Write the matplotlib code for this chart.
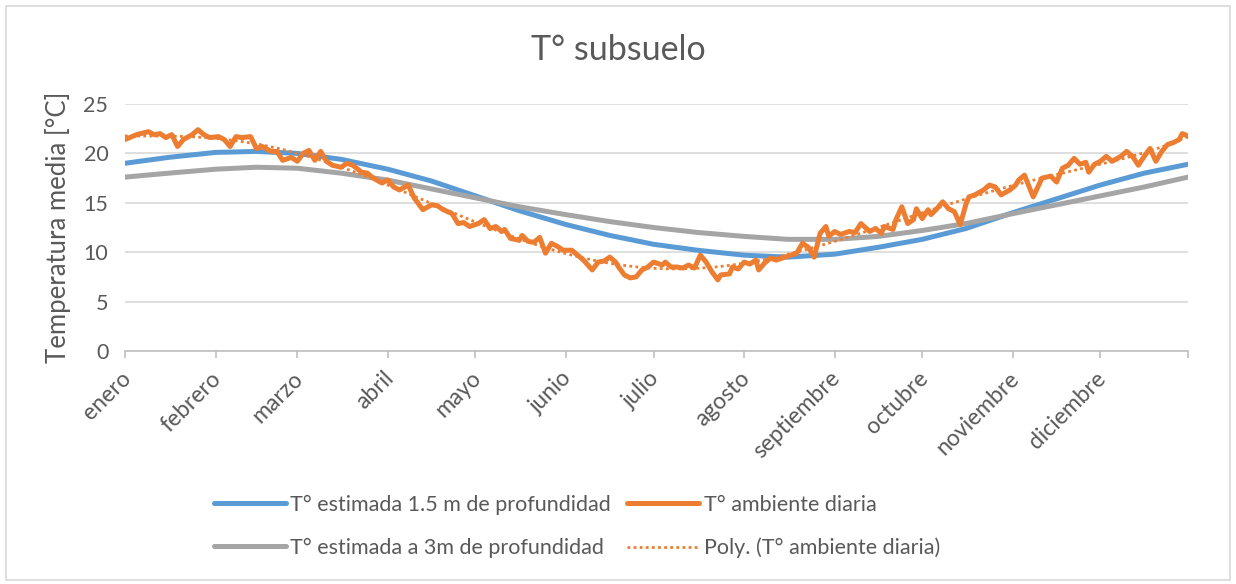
import numpy as np
import matplotlib
matplotlib.use("Agg")
import matplotlib.pyplot as plt
from matplotlib.patches import Rectangle
from matplotlib.transforms import ScaledTranslation

plt.rcParams['font.family'] = ['Lato', 'DejaVu Sans']

# month labels and the day index where each month starts
months = ["enero", "febrero", "marzo", "abril", "mayo", "junio", "julio",
          "agosto", "septiembre", "octubre", "noviembre", "diciembre"]
month_start = [0, 31, 59, 90, 120, 151, 181, 212, 243, 273, 304, 334]

# estimated soil temperature (read roughly every half month)
soil_days = [0, 15, 31, 45, 59, 74, 90, 105, 120, 135, 151, 166, 181,
             196, 212, 227, 243, 258, 273, 288, 304, 319, 334, 349, 364]
soil_15m = [19.0, 19.6, 20.1, 20.2, 20.0, 19.4, 18.4, 17.2, 15.7, 14.2, 12.8, 11.7, 10.8,
            10.2, 9.7, 9.5, 9.8, 10.5, 11.3, 12.4, 14.0, 15.4, 16.8, 18.0, 18.9]
soil_3m = [17.6, 18.0, 18.4, 18.6, 18.5, 18.0, 17.3, 16.4, 15.5, 14.6, 13.8, 13.1, 12.5,
           12.0, 11.6, 11.3, 11.3, 11.6, 12.2, 12.9, 13.9, 14.8, 15.7, 16.6, 17.6]

# daily ambient temperature (sampled every few days)
amb_days = [0, 4, 8, 10, 12, 14, 16, 18, 20, 23, 25, 27, 29, 32, 34, 36, 38, 40, 43, 45,
            47, 50, 52, 54, 57, 59, 61, 63,
            65, 67, 69, 71, 74, 76, 78, 81, 83, 85, 88, 90, 92, 94, 97, 99, 100, 102,
            105, 107, 109, 112, 114, 116, 118, 121, 123, 125,
            127, 129, 130, 132, 135, 136, 138, 140, 142, 144, 146, 148, 150, 153, 155,
            157, 160, 162, 164, 166, 168, 169, 171, 173, 175, 177, 179, 181, 184, 185, 187,
            189, 191, 193, 195, 197, 199, 201, 203, 204, 207, 208, 210, 212, 214, 216,
            217, 219, 221, 223, 226, 228, 230, 232, 234, 236, 238, 240, 241, 243, 245, 248,
            250, 252, 255, 257, 259, 260, 263, 264, 266, 268, 270, 271, 273, 275, 276,
            278, 280, 282, 284, 286, 288, 289, 291, 294, 296, 298, 300, 303, 305, 306, 308,
            311, 314, 317, 319, 321, 323, 325, 327, 329, 330, 332, 334, 336, 338, 341,
            343, 345, 347, 349, 351, 353, 355, 357, 359, 361, 362, 363, 364]
amb_temp = [21.4, 21.9, 22.2, 21.9, 22.0, 21.6, 21.9, 20.7, 21.4, 21.9, 22.4, 21.9, 21.6,
            21.7, 21.4, 20.7, 21.7, 21.6, 21.7, 20.5, 20.7, 20.2, 20.2, 19.3, 19.6, 19.2,
            20.0, 20.3,
            19.3, 20.2, 19.2, 18.8, 18.6, 19.0, 18.8, 18.1, 18.0, 17.5, 17.0, 17.3, 16.6,
            16.3, 16.8, 15.5, 15.1, 14.3, 14.8, 14.7, 14.3, 13.9, 12.9, 13.0, 12.6, 12.9,
            13.3, 12.4,
            12.6, 12.1, 12.3, 11.4, 11.2, 11.7, 11.1, 11.0, 11.5, 9.9, 10.9, 10.6, 10.2,
            10.2, 9.7, 9.2, 8.2, 9.0, 9.1, 9.5, 9.0, 8.5, 7.7, 7.4, 7.5, 8.2, 8.5, 9.0,
            8.7, 9.0, 8.5,
            8.5, 8.4, 8.7, 8.4, 9.7, 9.0, 8.0, 7.2, 7.7, 7.8, 8.5, 8.3, 9.0, 8.8, 9.2,
            8.2, 8.9, 9.4, 9.2, 9.5, 9.7, 9.9, 10.9, 10.5, 9.5, 11.9, 12.6, 11.6, 12.1,
            11.8, 12.1,
            12.0, 12.9, 12.1, 12.4, 11.9, 12.6, 12.3, 13.3, 14.6, 12.9, 13.3, 14.4, 13.4,
            14.3, 13.8, 14.4, 15.1, 14.4, 14.1, 12.8, 14.9, 15.6, 15.8, 16.3, 16.8, 16.6,
            15.8, 16.3, 16.8, 17.3, 17.8,
            15.6, 17.5, 17.7, 17.1, 18.5, 18.8, 19.5, 18.9, 19.1, 18.1, 18.9, 19.2, 19.7,
            19.2, 19.7, 20.2, 19.7, 18.8, 19.7, 20.5, 19.2, 20.2, 20.9, 21.1, 21.4, 22.0,
            21.9, 21.7]

blue = "#5B9BD5"
orange = "#ED7D31"
gray = "#A5A5A5"
txt = "#595959"

# polynomial trendline of the daily series (as Excel's "Poly.")
coef = np.polyfit(amb_days, amb_temp, 6)
trend = np.polyval(coef, amb_days)

fig = plt.figure(figsize=(12.36, 5.84), dpi=100)
ax = fig.add_axes([125/1236, 1-351/584, (1188-125)/1236, (351-104)/584])

l1, = ax.plot(soil_days, soil_15m, color=blue, lw=3.6, solid_capstyle='round',
              label="T° estimada 1.5 m de profundidad", zorder=3)
l3, = ax.plot(soil_days, soil_3m, color=gray, lw=3.6, solid_capstyle='round',
              label="T° estimada a 3m de profundidad", zorder=4)
l2, = ax.plot(amb_days, amb_temp, color=orange, lw=3.6, solid_capstyle='round',
              solid_joinstyle='round', label="T° ambiente diaria", zorder=5)
l4, = ax.plot(amb_days, trend, color=orange, lw=2, ls=(0, (1, 1.2)),
              label="Poly. (T° ambiente diaria)", zorder=6)

ax.set_xlim(0, 364)
ax.set_ylim(0, 25)
ax.set_yticks(range(0, 26, 5))
ax.yaxis.grid(True, color="#D9D9D9", lw=1.2)
ax.set_axisbelow(True)
for s in ["top", "right", "left"]:
    ax.spines[s].set_visible(False)
ax.spines["bottom"].set_color("#BFBFBF")
ax.spines["bottom"].set_linewidth(1.2)
ax.tick_params(axis="y", length=0, pad=12, labelsize=15.5, labelcolor=txt)

ax.set_xticks(month_start + [364])
ax.set_xticklabels(months + [""])
ax.tick_params(axis="x", length=5, width=1.2, color="#BFBFBF", pad=7,
               labelsize=16.5, labelcolor=txt)
shift = ScaledTranslation(-5/100, 0, fig.dpi_scale_trans)
for lab in ax.get_xticklabels():
    lab.set_rotation(45)
    lab.set_ha("right")
    lab.set_va("top")
    lab.set_rotation_mode("anchor")
    lab.set_transform(lab.get_transform() + shift)

ax.set_ylabel("Temperatura media [°C]", fontsize=18.5, color=txt, labelpad=9)
fig.text(0.5, 1-50/584, "T° subsuelo", ha="center", va="center",
         fontsize=24.5, color=txt)

fig.legend(handles=[l1, l3, l2, l4], ncol=2, frameon=False, fontsize=15.5,
           loc="upper left", bbox_to_anchor=(203/1236, 1-484/584),
           handlelength=3.35, handletextpad=0.2, columnspacing=0.75,
           labelspacing=1.05, labelcolor=txt, borderpad=0)

fig.patches.append(Rectangle((6/1236, 4/584), 1224/1236, 574/584, transform=fig.transFigure,
                             fill=False, edgecolor="#D9D9D9", lw=1.2))

fig.savefig("out.png", dpi=100)
